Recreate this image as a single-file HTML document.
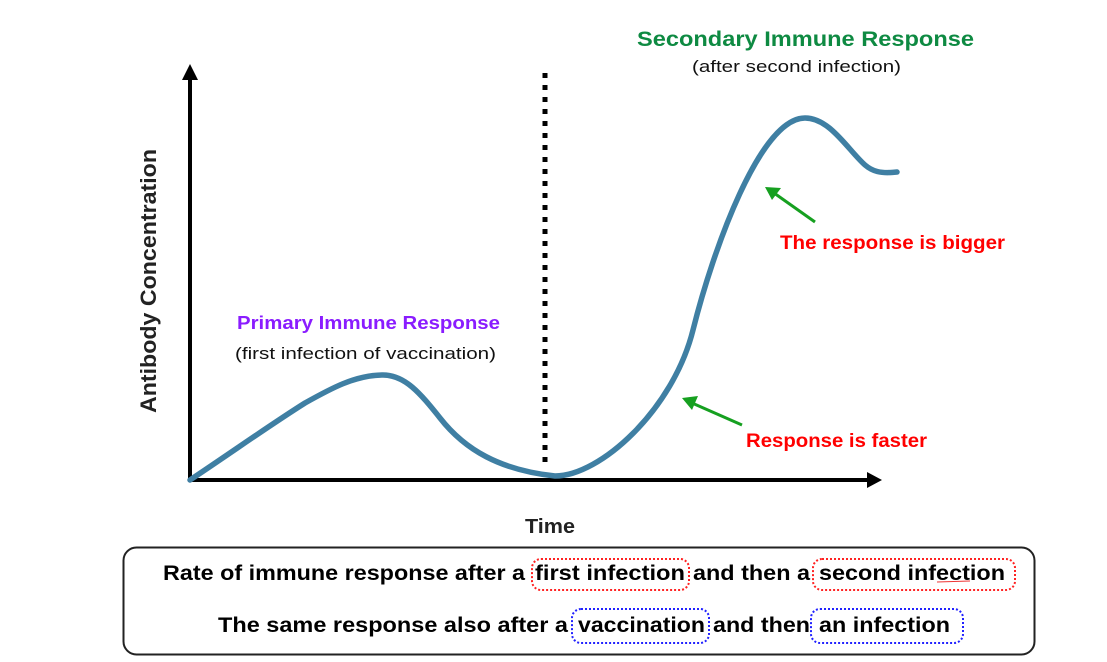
<!DOCTYPE html>
<html><head><meta charset="utf-8"><style>
html,body{margin:0;padding:0;background:#fff;}
svg{display:block;}
text{font-family:"Liberation Sans",Arial,sans-serif;}
</style></head><body>
<svg width="1107" height="662" viewBox="0 0 1107 662" xmlns="http://www.w3.org/2000/svg">
<rect width="1107" height="662" fill="#fff"/>
<!-- axes -->
<line x1="190" y1="482" x2="190" y2="78" stroke="#000" stroke-width="4"/>
<polygon points="182,80 198,80 190,64" fill="#000"/>
<line x1="188" y1="480" x2="869" y2="480" stroke="#000" stroke-width="4"/>
<polygon points="867,472 867,488 882,480" fill="#000"/>
<!-- dotted divider -->
<line x1="545" y1="73" x2="545" y2="468" stroke="#000" stroke-width="5" stroke-dasharray="5 7"/>
<!-- curve -->
<path d="M190,480 C235,450 270,425 305,403 C330,389 355,375 383,375 C405,375 420,393 440,418 C465,450 500,470 555,476 C600,476 673,410 693,330 C713,250 760,118 805,118 C830,118 848,150 865,165 C872,171 880,174 897,172" fill="none" stroke="#3f7fa3" stroke-width="5.5" stroke-linecap="round" stroke-linejoin="round"/>
<!-- green arrows -->
<line x1="815" y1="222" x2="774" y2="193" stroke="#16a020" stroke-width="3"/>
<polygon points="765,187 781,188 772,200" fill="#16a020"/>
<line x1="742" y1="425" x2="692" y2="403" stroke="#16a020" stroke-width="3"/>
<polygon points="682,398 698,396 692,410" fill="#16a020"/>
<!-- labels -->
<text x="637" y="46" font-size="21" font-weight="bold" fill="#0e8a42" textLength="337" lengthAdjust="spacingAndGlyphs">Secondary Immune Response</text>
<text x="692" y="72" font-size="17" fill="#111" textLength="209" lengthAdjust="spacingAndGlyphs">(after second infection)</text>
<text x="237" y="329" font-size="18" font-weight="bold" fill="#8a1cff" textLength="263" lengthAdjust="spacingAndGlyphs">Primary Immune Response</text>
<text x="235" y="359" font-size="17" fill="#111" textLength="261" lengthAdjust="spacingAndGlyphs">(first infection of vaccination)</text>
<text x="780" y="249" font-size="19" font-weight="bold" fill="#f00" textLength="225" lengthAdjust="spacingAndGlyphs">The response is bigger</text>
<text x="746" y="447" font-size="19" font-weight="bold" fill="#f00" textLength="181" lengthAdjust="spacingAndGlyphs">Response is faster</text>
<text x="525" y="533" font-size="20" font-weight="bold" fill="#222" textLength="50" lengthAdjust="spacingAndGlyphs">Time</text>
<text transform="translate(156,281) rotate(-90)" text-anchor="middle" font-size="22" font-weight="bold" fill="#222" textLength="264" lengthAdjust="spacingAndGlyphs">Antibody Concentration</text>
<!-- bottom box -->
<rect x="123.5" y="547.5" width="911" height="107" rx="13" ry="13" fill="#fff" stroke="#222" stroke-width="2"/>
<rect x="532" y="559" width="157" height="31" rx="9" fill="none" stroke="#f22" stroke-width="2" stroke-dasharray="2 2"/>
<rect x="813" y="559" width="202" height="31" rx="9" fill="none" stroke="#f22" stroke-width="2" stroke-dasharray="2 2"/>
<rect x="572" y="609" width="137" height="34" rx="9" fill="none" stroke="#22f" stroke-width="2" stroke-dasharray="2 2"/>
<rect x="811" y="609" width="152" height="34" rx="9" fill="none" stroke="#22f" stroke-width="2" stroke-dasharray="2 2"/>
<line x1="937" y1="582" x2="970" y2="581" stroke="#e33" stroke-width="1"/>
<text x="163" y="580" font-size="21" font-weight="bold" fill="#000" textLength="362" lengthAdjust="spacingAndGlyphs">Rate of immune response after a</text>
<text x="535" y="580" font-size="21" font-weight="bold" fill="#000" textLength="150" lengthAdjust="spacingAndGlyphs">first infection</text>
<text x="693" y="580" font-size="21" font-weight="bold" fill="#000" textLength="117" lengthAdjust="spacingAndGlyphs">and then a</text>
<text x="819" y="580" font-size="21" font-weight="bold" fill="#000" textLength="186" lengthAdjust="spacingAndGlyphs">second infection</text>
<text x="218" y="632" font-size="21" font-weight="bold" fill="#000" textLength="350" lengthAdjust="spacingAndGlyphs">The same response also after a</text>
<text x="578" y="632" font-size="21" font-weight="bold" fill="#000" textLength="127" lengthAdjust="spacingAndGlyphs">vaccination</text>
<text x="713" y="632" font-size="21" font-weight="bold" fill="#000" textLength="97" lengthAdjust="spacingAndGlyphs">and then</text>
<text x="819" y="632" font-size="21" font-weight="bold" fill="#000" textLength="131" lengthAdjust="spacingAndGlyphs">an infection</text>
</svg>
</body></html>
